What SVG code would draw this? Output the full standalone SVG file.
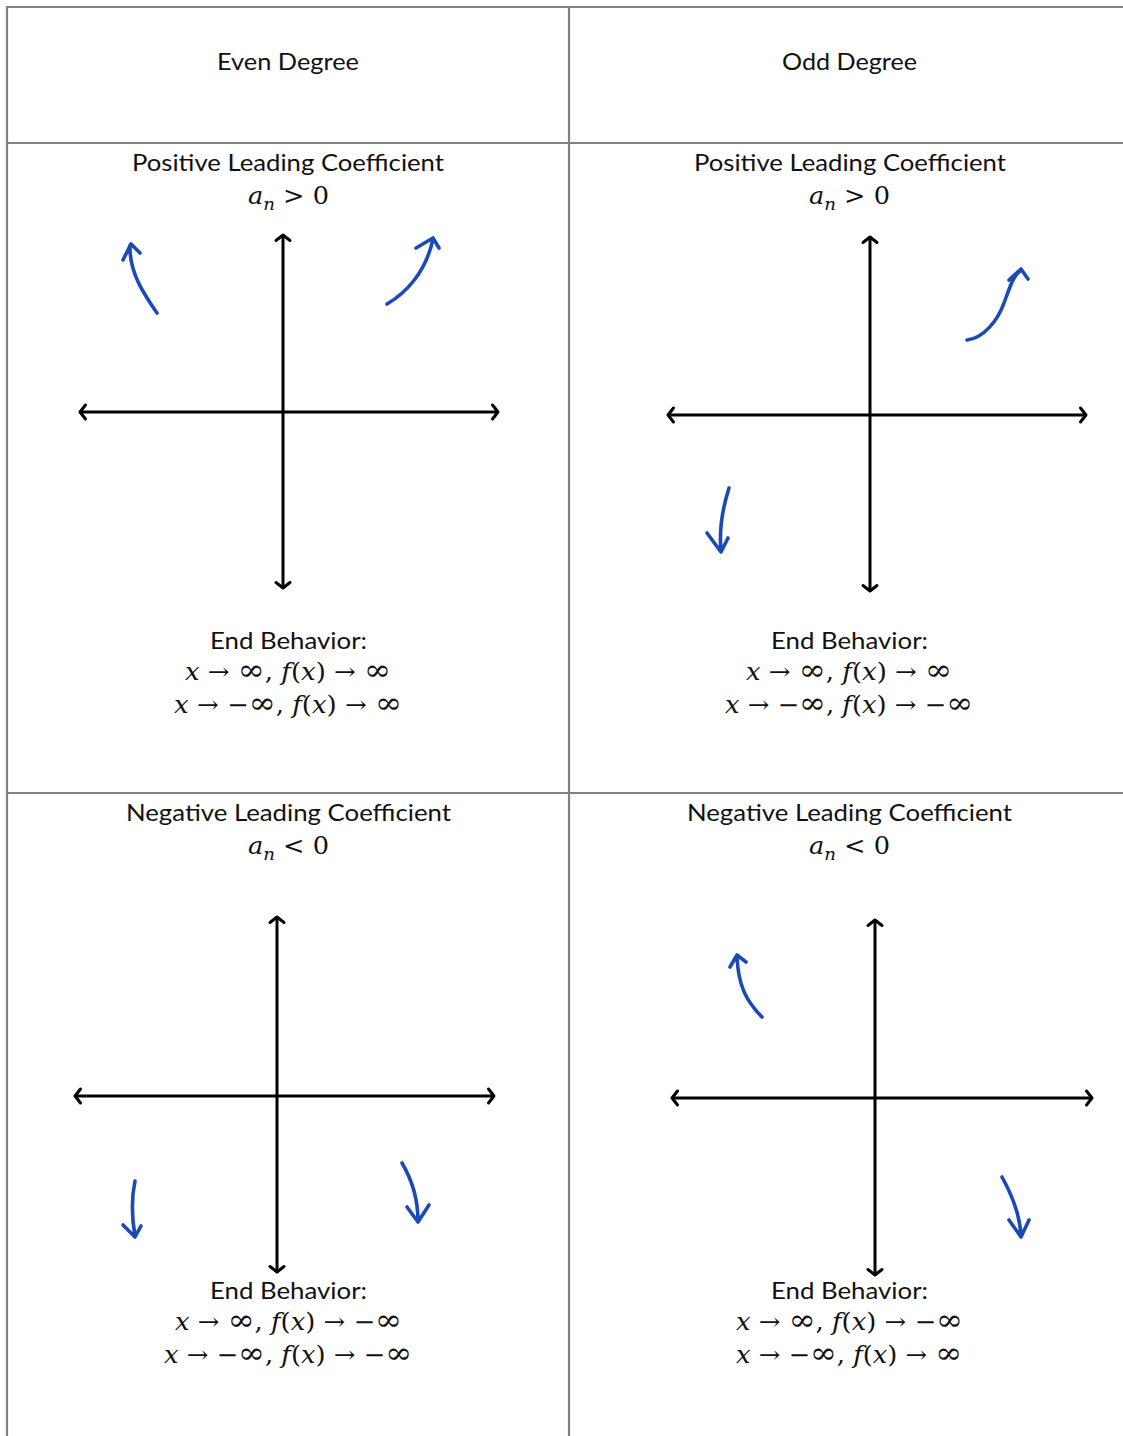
<svg xmlns="http://www.w3.org/2000/svg" width="1123" height="1436" viewBox="0 0 1123 1436">
<style>
.grid{stroke:#808080;stroke-width:2.2;fill:none}
.axis{stroke:#000;stroke-width:3;fill:none;marker-start:url(#chev);marker-end:url(#chev)}
.hand{stroke:#1b49b6;stroke-width:3.6;fill:none;stroke-linecap:round;stroke-linejoin:round}
.lbl{font-family:Lato,"Liberation Sans",sans-serif;font-size:24px;fill:#111;text-anchor:middle}
.m{font-family:"DejaVu Serif","Liberation Serif",serif;font-size:24px;fill:#111;text-anchor:middle}
.i{font-style:italic}
.s{font-size:17px}
.inf{font-size:30px}
</style>
<defs>
<marker id="chev" viewBox="-10 -10 20 20" markerWidth="20" markerHeight="20" refX="0" refY="0" orient="auto-start-reverse" markerUnits="userSpaceOnUse">
<path d="M-5.5,-7 L0,0 L-5.5,7" fill="none" stroke="#000" stroke-width="3" stroke-linecap="round" stroke-linejoin="round"/>
</marker>
</defs>
<rect width="1123" height="1436" fill="#fff"/>
<g id="table-grid">
<line class="grid" x1="7" y1="7" x2="1123" y2="7"/>
<line class="grid" x1="7" y1="6" x2="7" y2="1436"/>
<line class="grid" x1="569" y1="6" x2="569" y2="1436"/>
<line class="grid" x1="7" y1="143" x2="1123" y2="143"/>
<line class="grid" x1="7" y1="793" x2="1123" y2="793"/>
</g>
<g id="header-even">
<text class="lbl" x="288" y="70" textLength="142" lengthAdjust="spacingAndGlyphs">Even Degree</text>
</g>
<g id="header-odd">
<text class="lbl" x="849.5" y="70" textLength="135" lengthAdjust="spacingAndGlyphs">Odd Degree</text>
</g>
<g id="cell-even-positive">
<text class="lbl" x="288" y="171" textLength="312" lengthAdjust="spacingAndGlyphs">Positive Leading Coefficient</text>
<text class="m" x="288.5" y="204" textLength="81" lengthAdjust="spacingAndGlyphs"><tspan class="i">a</tspan><tspan class="i s" dy="6">n</tspan><tspan dy="-6"> &gt; 0</tspan></text>
<line class="axis" x1="283" y1="235" x2="283" y2="588"/>
<line class="axis" x1="80" y1="412" x2="498" y2="412"/>
<path class="hand" d="M157,313 C147,298 129,275 130,245 M123,260 L131,244 L140,253"/>
<path class="hand" d="M387,304 C406,293 426,272 433,239 M416,248 L433,238 L439,248"/>
<text class="lbl" x="288.5" y="649" textLength="157" lengthAdjust="spacingAndGlyphs">End Behavior:</text>
<text class="m" x="288" y="680" textLength="206" lengthAdjust="spacingAndGlyphs"><tspan class="i">x</tspan> → <tspan class="inf">∞</tspan>, <tspan class="i">f</tspan>(<tspan class="i">x</tspan>) → <tspan class="inf">∞</tspan></text>
<text class="m" x="288" y="713" textLength="228" lengthAdjust="spacingAndGlyphs"><tspan class="i">x</tspan> → −<tspan class="inf">∞</tspan>, <tspan class="i">f</tspan>(<tspan class="i">x</tspan>) → <tspan class="inf">∞</tspan></text>
</g>
<g id="cell-odd-positive">
<text class="lbl" x="850" y="171" textLength="312" lengthAdjust="spacingAndGlyphs">Positive Leading Coefficient</text>
<text class="m" x="849.5" y="204" textLength="81" lengthAdjust="spacingAndGlyphs"><tspan class="i">a</tspan><tspan class="i s" dy="6">n</tspan><tspan dy="-6"> &gt; 0</tspan></text>
<line class="axis" x1="870" y1="237" x2="870" y2="591"/>
<line class="axis" x1="668" y1="415" x2="1086" y2="415"/>
<path class="hand" d="M967,340 C984,338 998,320 1004,303 C1010,287 1013,276 1021,270 M1009,280 L1021,269 L1028,279"/>
<path class="hand" d="M729,488 C722,510 719,530 721,551 M707,533 L721,552 L728,538"/>
<text class="lbl" x="849.5" y="649" textLength="157" lengthAdjust="spacingAndGlyphs">End Behavior:</text>
<text class="m" x="849" y="680" textLength="206" lengthAdjust="spacingAndGlyphs"><tspan class="i">x</tspan> → <tspan class="inf">∞</tspan>, <tspan class="i">f</tspan>(<tspan class="i">x</tspan>) → <tspan class="inf">∞</tspan></text>
<text class="m" x="849" y="713" textLength="248" lengthAdjust="spacingAndGlyphs"><tspan class="i">x</tspan> → −<tspan class="inf">∞</tspan>, <tspan class="i">f</tspan>(<tspan class="i">x</tspan>) → −<tspan class="inf">∞</tspan></text>
</g>
<g id="cell-even-negative">
<text class="lbl" x="288.5" y="821" textLength="325" lengthAdjust="spacingAndGlyphs">Negative Leading Coefficient</text>
<text class="m" x="288.5" y="854" textLength="81" lengthAdjust="spacingAndGlyphs"><tspan class="i">a</tspan><tspan class="i s" dy="6">n</tspan><tspan dy="-6"> &lt; 0</tspan></text>
<line class="axis" x1="277" y1="917" x2="277" y2="1272"/>
<line class="axis" x1="75" y1="1096" x2="494" y2="1096"/>
<path class="hand" d="M135,1181 C131,1200 132,1219 135,1236 M123,1225 L135,1237 L141,1226"/>
<path class="hand" d="M402,1163 C412,1180 418,1200 418,1221 M407,1207 L418,1222 L429,1205"/>
<text class="lbl" x="288.5" y="1299" textLength="157" lengthAdjust="spacingAndGlyphs">End Behavior:</text>
<text class="m" x="288.5" y="1330" textLength="227" lengthAdjust="spacingAndGlyphs"><tspan class="i">x</tspan> → <tspan class="inf">∞</tspan>, <tspan class="i">f</tspan>(<tspan class="i">x</tspan>) → −<tspan class="inf">∞</tspan></text>
<text class="m" x="288" y="1363" textLength="248" lengthAdjust="spacingAndGlyphs"><tspan class="i">x</tspan> → −<tspan class="inf">∞</tspan>, <tspan class="i">f</tspan>(<tspan class="i">x</tspan>) → −<tspan class="inf">∞</tspan></text>
</g>
<g id="cell-odd-negative">
<text class="lbl" x="849.5" y="821" textLength="325" lengthAdjust="spacingAndGlyphs">Negative Leading Coefficient</text>
<text class="m" x="849.5" y="854" textLength="81" lengthAdjust="spacingAndGlyphs"><tspan class="i">a</tspan><tspan class="i s" dy="6">n</tspan><tspan dy="-6"> &lt; 0</tspan></text>
<line class="axis" x1="875" y1="920" x2="875" y2="1275"/>
<line class="axis" x1="672" y1="1098" x2="1092" y2="1098"/>
<path class="hand" d="M762,1017 C746,1001 738,985 737,956 M730,967 L737,955 L746,962"/>
<path class="hand" d="M1002,1177 C1012,1195 1020,1215 1021,1236 M1009,1220 L1021,1237 L1029,1220"/>
<text class="lbl" x="849.5" y="1299" textLength="157" lengthAdjust="spacingAndGlyphs">End Behavior:</text>
<text class="m" x="849.5" y="1330" textLength="227" lengthAdjust="spacingAndGlyphs"><tspan class="i">x</tspan> → <tspan class="inf">∞</tspan>, <tspan class="i">f</tspan>(<tspan class="i">x</tspan>) → −<tspan class="inf">∞</tspan></text>
<text class="m" x="849" y="1363" textLength="226" lengthAdjust="spacingAndGlyphs"><tspan class="i">x</tspan> → −<tspan class="inf">∞</tspan>, <tspan class="i">f</tspan>(<tspan class="i">x</tspan>) → <tspan class="inf">∞</tspan></text>
</g>
</svg>
